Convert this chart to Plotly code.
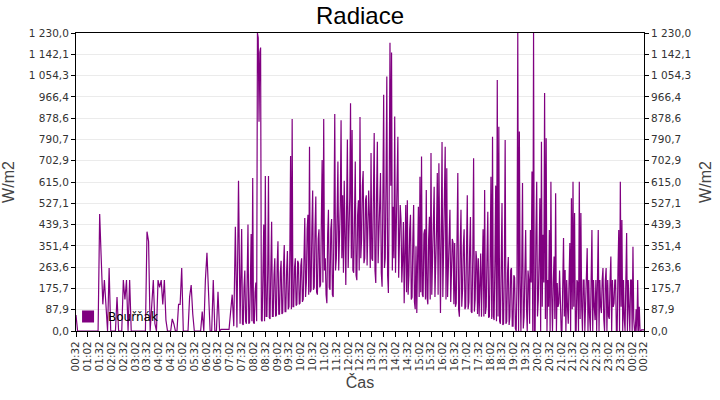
import pandas as pd
import plotly.graph_objs as go

# radiace (W/m2)
# noc: 00:32 - 07:28 po 4 minutach
noc = [
    66, 0, 0, 0, 0, 0, 0, 0, 0, 0, 0, 0, 0, 0, 0,
    483, 240, 110, 210, 110, 0, 260, 0, 0, 0, 0, 140, 0, 0, 0,
    210, 130, 210, 0, 210, 0, 0, 0, 0, 0, 0, 0, 0, 0, 0,
    410, 370, 0, 110, 210, 30, 0, 210, 180, 210, 110, 210, 45, 0, 0,
    0, 50, 30, 0, 0, 110, 110, 260, 0, 0, 0, 0, 140, 190, 70,
    0, 0, 0, 0, 0, 80, 0, 210, 323, 160, 0, 0, 210, 0, 0,
    162, 0, 7, 7, 7, 7, 7, 7, 80, 150, 20, 430, 15, 620, 30,
]
# den: 07:32 - 19:30 po 2 minutach
den = [
    421, 30, 25, 180, 250, 40, 30, 220, 440, 30, 35, 190, 400, 40, 632,
    35, 30, 160, 200, 40, 1230, 1210, 864, 1150, 1170, 45, 40, 250, 440, 40,
    640, 60, 60, 240, 640, 55, 50, 260, 451, 60, 60, 230, 300, 60, 65,
    270, 370, 70, 70, 240, 290, 70, 75, 260, 355, 80, 80, 250, 330, 90,
    100, 300, 722, 90, 875, 100, 100, 260, 300, 105, 110, 290, 280, 110, 115,
    270, 300, 120, 130, 300, 466, 140, 200, 420, 480, 150, 761, 160, 170, 420,
    580, 170, 180, 420, 555, 160, 150, 380, 420, 180, 190, 450, 706, 200, 875,
    250, 300, 150, 115, 400, 500, 180, 170, 420, 462, 150, 140, 450, 896, 250,
    300, 480, 700, 250, 380, 520, 870, 300, 560, 240, 620, 450, 190, 500, 790,
    260, 400, 550, 940, 300, 830, 250, 240, 520, 700, 230, 210, 480, 540, 250,
    883, 300, 380, 600, 660, 280, 300, 540, 560, 270, 400, 580, 470, 260, 735,
    300, 290, 620, 817, 250, 198, 560, 781, 280, 420, 600, 652, 240, 183, 560,
    975, 260, 300, 620, 1050, 230, 157, 560, 1190, 600, 1150, 250, 513, 300, 885,
    240, 400, 560, 802, 220, 348, 520, 458, 200, 293, 450, 115, 380, 520, 160,
    540, 150, 230, 420, 480, 130, 140, 380, 520, 120, 90, 350, 74, 300, 513,
    140, 637, 160, 720, 150, 140, 400, 420, 130, 582, 140, 110, 380, 472, 130,
    735, 150, 300, 450, 595, 140, 250, 420, 652, 150, 692, 130, 74, 400, 780,
    140, 320, 430, 760, 130, 672, 140, 280, 400, 500, 120, 300, 380, 363, 110,
    363, 100, 115, 380, 652, 90, 59, 340, 500, 100, 170, 350, 420, 90, 100,
    330, 560, 90, 120, 340, 470, 80, 75, 320, 713, 80, 130, 330, 290, 70,
    300, 60, 170, 320, 59, 300, 420, 60, 582, 70, 100, 310, 492, 55, 60,
    300, 637, 50, 802, 60, 45, 280, 600, 40, 1036, 60, 843, 40, 30, 260,
    528, 25, 30, 260, 788, 30, 40, 240, 305, 25, 60, 250, 260, 20, 20,
    230, 220, 10, 0, 200, 1230, 0, 823, 200, 0, 250, 611, 10, 60, 240,
]
# vecer: 19:32 - 00:32 po 2 minutach
vecer = [
    417, 100, 0, 250, 210, 30, 417, 200, 658, 0, 1230, 0, 0, 400, 616,
    60, 128, 300, 548, 0, 781, 100, 397, 200, 982, 50, 796, 0, 210, 100,
    417, 0, 616, 150, 0, 200, 307, 50, 569, 0, 198, 100, 115, 250, 45,
    0, 0, 210, 384, 60, 252, 0, 210, 100, 30, 210, 363, 0, 548, 90,
    616, 100, 487, 0, 0, 210, 200, 0, 616, 50, 487, 100, 0, 210, 210,
    0, 128, 250, 342, 0, 210, 60, 0, 210, 417, 0, 210, 100, 45, 210,
    0, 210, 417, 0, 210, 100, 74, 210, 260, 50, 0, 210, 260, 0, 210,
    60, 50, 210, 307, 0, 210, 100, 115, 210, 210, 0, 0, 250, 417, 0,
    616, 100, 458, 0, 210, 50, 0, 210, 404, 0, 210, 100, 0, 210, 210,
    0, 348, 50, 0, 0, 90, 0, 210, 0, 100, 0, 0, 5, 5, 5,
    5,
]

y_ticks = [0.0, 87.9, 175.7, 263.6, 351.4, 439.3, 527.1, 615.0,
           702.9, 790.7, 878.6, 966.4, 1054.3, 1142.1, 1230.0]

radiace = noc + den + vecer
cas = (list(pd.date_range('2024-06-01 00:32', periods=len(noc), freq='4min'))
       + list(pd.date_range('2024-06-01 07:32', periods=len(den), freq='2min'))
       + list(pd.date_range('2024-06-01 19:32', periods=len(vecer), freq='2min')))
x_ticks = pd.date_range('2024-06-01 00:32', '2024-06-02 00:32', freq='30min')

fig = go.Figure()
fig.add_trace(go.Scatter(
    x=cas, y=radiace, mode='lines',
    line=dict(color='#800080', width=1.2), showlegend=False,
))
fig.add_trace(go.Scatter(
    x=[None], y=[None], yaxis='y2', mode='markers', name='Bouřňák',
    marker=dict(symbol='square', size=11, color='#800080'),
))

tick_font = dict(family='DejaVu Sans', size=10.5, color='#333')
title_font = dict(family='Liberation Sans', size=16, color='#444')

fig.update_layout(
    title=dict(text='Radiace', x=0.5, xanchor='center', y=0.96, yanchor='middle',
               font=dict(family='Liberation Sans', size=24, color='black')),
    width=720, height=400,
    template=None,
    plot_bgcolor='white', paper_bgcolor='white',
    separators=', ',
    margin=dict(l=76, r=76, t=33, b=69, autoexpand=False),
    legend=dict(x=-0.014, y=0.0, xanchor='left', yanchor='bottom',
                bgcolor='rgba(0,0,0,0)', font=dict(family='DejaVu Sans', size=12, color='black'),
                itemsizing='constant'),
    xaxis=dict(
        range=[x_ticks[0], x_ticks[-1]], automargin=False,
        tickvals=x_ticks, tickformat='%H:%M', tickangle=-90,
        ticks='outside', ticklen=5, tickcolor='black',
        showgrid=False, showline=True, linecolor='black', linewidth=1, mirror=True,
        tickfont=tick_font,
        title=dict(text='Čas', font=title_font, standoff=6),
    ),
    yaxis=dict(
        range=[0, 1230], tickvals=y_ticks, tickformat=',.1f', automargin=False,
        ticks='outside', ticklen=4, tickcolor='black',
        showgrid=True, gridcolor='#ebebeb', zeroline=False,
        showline=True, linecolor='black', linewidth=1, mirror=True,
        tickfont=tick_font,
        title=dict(text='W/m2', font=title_font, standoff=15),
    ),
    yaxis2=dict(
        range=[0, 1230], tickvals=y_ticks, tickformat=',.1f', automargin=False,
        overlaying='y', side='right',
        ticks='outside', ticklen=4, tickcolor='black',
        showgrid=False, zeroline=False,
        tickfont=tick_font,
        title=dict(text='W/m2', font=title_font, standoff=9),
    ),
)

# bez okraje stranky, aby graf sedel na 720x400
fig.write_html('out.html', config={'displayModeBar': False},
               post_script="document.body.style.margin='0';")
